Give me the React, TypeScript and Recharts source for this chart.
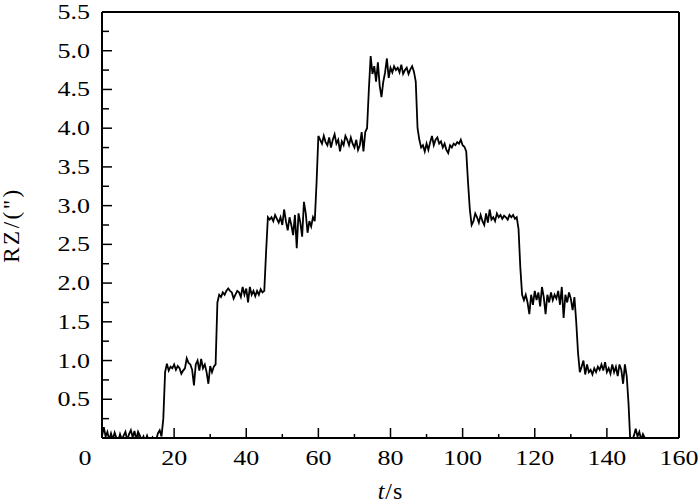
import React from 'react';
import { LineChart, Line, XAxis, YAxis, ReferenceLine } from 'recharts';

// sample spacing of the recording, seconds
const STEP = 0.5;

// RZ readings, one every 0.5 s from t = 0
const rzValues = [
  0.02, 0.14, 0.02, 0.08, -0.03, 0.06, -0.02, 0.07, 0.0, -0.04,
  0.05, -0.02, 0.03, 0.08, -0.03, 0.05, 0.1, 0.01, 0.09, -0.02,
  0.08, 0.03, -0.03, 0.02, -0.05, 0.03, -0.04, -0.02, 0.01, -0.05,
  -0.03, 0.06, 0.1, 0.02, 0.25, 0.85, 0.96, 0.87, 0.92, 0.9,
  0.95, 0.88, 0.93, 0.9, 0.83, 0.87, 0.9, 1.03, 0.97, 0.95,
  0.88, 0.68, 0.95, 1.0, 0.87, 1.02, 0.9, 0.95, 0.85, 0.7,
  0.93, 0.85, 0.92, 0.95, 1.75, 1.85, 1.82, 1.88, 1.85, 1.9,
  1.93, 1.9, 1.88, 1.8, 1.85, 1.9, 1.88, 1.82, 1.95, 1.85,
  1.93, 1.75, 1.95, 1.85, 1.9, 1.83, 1.9, 1.85, 1.92, 1.88,
  1.9, 2.4, 2.85, 2.82, 2.85, 2.8, 2.88, 2.83, 2.78, 2.85,
  2.75, 2.95, 2.8, 2.68, 2.85, 2.75, 2.62, 2.88, 2.45, 2.9,
  2.78, 2.6, 3.05, 2.9, 2.65, 2.8, 2.73, 2.85, 2.8, 3.3,
  3.9, 3.85, 3.8, 3.9, 3.82, 3.78, 3.88, 3.75, 3.85, 3.92,
  3.8, 3.85, 3.7, 3.83, 3.78, 3.9, 3.85, 3.78, 3.88, 3.8,
  3.75, 3.85, 3.72, 3.78, 3.95, 3.7, 3.95, 4.0, 4.5, 4.93,
  4.7, 4.8, 4.6, 4.85, 4.55, 4.4, 4.6, 4.72, 4.9, 4.65,
  4.78, 4.72, 4.8, 4.75, 4.78, 4.72, 4.82, 4.7, 4.75, 4.78,
  4.7, 4.76, 4.8, 4.73, 4.6, 4.0, 3.85, 3.75, 3.78, 3.7,
  3.8, 3.72, 3.82, 3.9, 3.78, 3.85, 3.88, 3.8, 3.83, 3.75,
  3.8, 3.72, 3.68, 3.78, 3.75, 3.8, 3.78, 3.82, 3.8, 3.85,
  3.78, 3.76, 3.7, 3.3, 2.95, 2.75, 2.8, 2.9, 2.85, 2.78,
  2.88, 2.8, 2.75, 2.9, 2.78, 2.95, 2.82, 2.85, 2.8, 2.9,
  2.85, 2.88, 2.83, 2.87, 2.85, 2.82, 2.88, 2.85, 2.88, 2.83,
  2.85, 2.7, 2.2, 1.85, 1.78, 1.85, 1.75, 1.6, 1.85, 1.72,
  1.9, 1.78, 1.88, 1.7, 1.95, 1.82, 1.6, 1.85, 1.75, 1.88,
  1.78, 1.85, 1.8, 1.9, 1.72, 1.95, 1.55, 1.85, 1.75, 1.88,
  1.8, 1.65, 1.82, 1.5, 1.1, 0.85, 0.92, 1.0, 0.82, 0.95,
  0.85, 0.88, 0.82, 0.9, 0.85, 0.92, 0.88, 0.95, 0.87, 0.98,
  0.85, 0.9, 0.83, 0.95, 0.85, 0.92, 0.8, 0.95, 0.88, 0.7,
  0.95, 0.8, 0.45, -0.05, -0.03, 0.03, 0.12, 0.02, 0.08, -0.02,
  0.05, 0.0, -0.05,
];

const xTicks = [0, 10, 20, 30, 40, 50, 60, 70, 80, 90, 100, 110, 120, 130, 140, 150, 160];
const yTicks = [
  0, 0.25, 0.5, 0.75, 1, 1.25, 1.5, 1.75, 2, 2.25, 2.5, 2.75,
  3, 3.25, 3.5, 3.75, 4, 4.25, 4.5, 4.75, 5, 5.25, 5.5,
];

const data = rzValues.map((v, i) => ({ t: i * STEP, rz: v }));

const FONT = '"Liberation Serif", "Times New Roman", serif';
// the original's lettering is a bit wider than Liberation Serif
const WIDEN = 1.3;

const XTick = (props: any) => {
  const { x, y, payload } = props;
  const v = payload.value;
  const major = v % 20 === 0;
  const lx = v === 0 ? x - 17 : x;
  return (
    <g>
      <line x1={x} y1={y} x2={x} y2={y - (major ? 10 : 4)} stroke="#000" strokeWidth={1.5} />
      {major && (
        <text
          transform={`translate(${lx}, ${y + 27}) scale(${WIDEN}, 1)`}
          textAnchor="middle"
          fontFamily={FONT}
          fontSize={20}
          fill="#000"
        >
          {v}
        </text>
      )}
    </g>
  );
};

const YTick = (props: any) => {
  const { x, y, payload } = props;
  const v = payload.value;
  const major = Math.abs(v * 2 - Math.round(v * 2)) < 1e-6;
  return (
    <g>
      <line x1={x} y1={y} x2={x + (major ? 10 : 7)} y2={y} stroke="#000" strokeWidth={1.5} />
      {major && v > 0 && (
        <text
          transform={`translate(${x - 12}, ${y + 7}) scale(${WIDEN}, 1)`}
          textAnchor="end"
          fontFamily={FONT}
          fontSize={20}
          fill="#000"
        >
          {v.toFixed(1)}
        </text>
      )}
    </g>
  );
};

const XLabel = (props: any) => {
  const { viewBox } = props;
  const cx = viewBox.x + viewBox.width / 2;
  return (
    <text x={cx} y={viewBox.y + 61} textAnchor="middle" fontFamily={FONT} fontSize={24} letterSpacing={1} fill="#000">
      <tspan fontStyle="italic">t</tspan>/s
    </text>
  );
};

const YLabel = (props: any) => {
  const { viewBox } = props;
  const cy = viewBox.y + viewBox.height / 2;
  const lx = 19;
  return (
    <text
      x={lx}
      y={cy}
      transform={`rotate(-90, ${lx}, ${cy})`}
      textAnchor="middle"
      fontFamily={FONT}
      fontSize={23}
      letterSpacing={2.5}
      fill="#000"
    >
      RZ/(")
    </text>
  );
};

export default function App() {
  return (
    <div style={{ background: '#fff', position: 'fixed', top: 0, left: 0, width: 700, height: 503 }}>
      <LineChart
        width={700}
        height={503}
        data={data}
        margin={{ top: 12, right: 21, left: 0, bottom: 0 }}
        style={{ overflow: 'visible' }}
      >
        <XAxis
          dataKey="t"
          type="number"
          domain={[0, 160]}
          ticks={xTicks}
          interval={0}
          height={65}
          tickSize={0}
          tickMargin={0}
          tickLine={false}
          tick={<XTick />}
          axisLine={{ stroke: '#000', strokeWidth: 2 }}
          label={<XLabel />}
        />
        <YAxis
          type="number"
          domain={[0, 5.5]}
          ticks={yTicks}
          interval={0}
          allowDataOverflow
          width={102}
          tickSize={0}
          tickMargin={0}
          tickLine={false}
          tick={<YTick />}
          axisLine={{ stroke: '#000', strokeWidth: 2 }}
          label={<YLabel />}
        />
        <ReferenceLine y={5.5} stroke="#000" strokeWidth={2} />
        <ReferenceLine x={160} stroke="#000" strokeWidth={2} />
        <Line
          type="linear"
          dataKey="rz"
          stroke="#000"
          strokeWidth={1.8}
          dot={false}
          isAnimationActive={false}
        />
      </LineChart>
    </div>
  );
}
